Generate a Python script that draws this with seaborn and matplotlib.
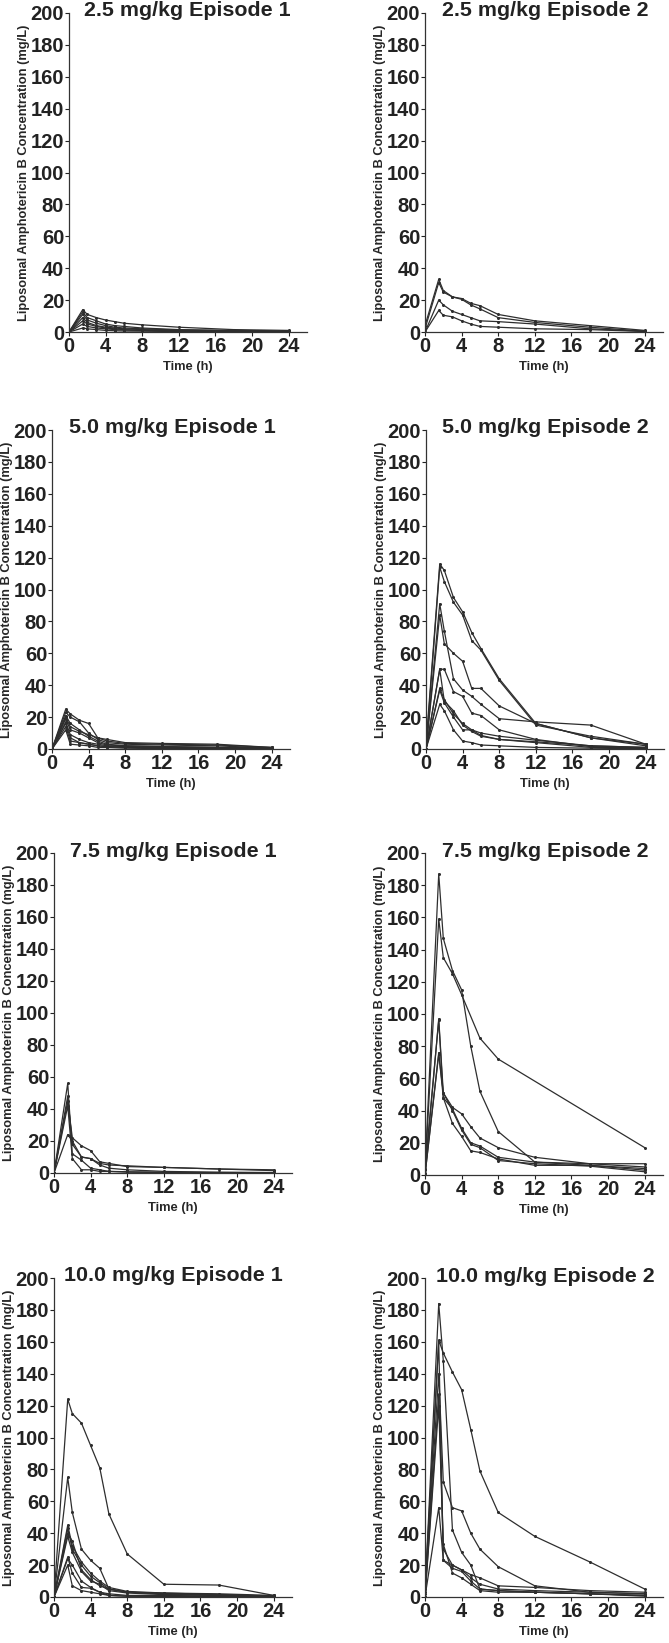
import numpy as np
import pandas as pd
import seaborn as sns
import matplotlib.pyplot as plt

nan = np.nan
times = [0, 1.5, 2, 3, 4, 5, 6, 8, 12, 18, 24]

d25_ep1 = [
    [0, 14, 11, 9, 7.5, 6.5, 5.5, 4.5, 3, 1.5, 1],
    [0, 12.5, 9, 7, 5, 4, 3.5, 2.5, 1.5, 1, 0.5],
    [0, 11, 7.5, 5.5, 4, 3, 2.5, 2, 1.2, 0.8, 0.5],
    [0, 9, 6, 4, 3, 2.5, 2, 1.5, 1, 0.5, 0.3],
    [0, 7, 5, 3.5, 2.5, 2, 1.5, 1, 0.6, 0.4, 0.2],
    [0, 5, 3.5, 2.5, 2, 1.5, 1.2, 1, 0.5, 0.3, 0.2],
    [0, 2.5, 2, 1.5, 1, 0.8, 0.6, 0.5, 0.3, 0.2, 0.1],
]
d25_ep2 = [
    [4, 33, 26, 22, 21, 18, 16.5, 11, 7, 4, 1],
    [2, 31, 25, 22, 20.5, 17, 14.5, 9, 6, 3, 0.5],
    [0, 20, 17, 13, 11, 9, 7, 6.5, 5, 2, 0.5],
    [0, 13.5, 10.5, 9.5, 7, 5, 3.5, 3, 2, 1.5, 0.3],
]
d50_ep1 = [
    [0, 25, 22, 18, 16, 7, 5, 3.5, 3, 2.5, 1],
    [0, 23, 20, 17, 10, 6, 4, 3, 2.5, 2, 0.5],
    [0, 21, 16, 12, 8, 5, 3, 2, 1.5, 1, 0.5],
    [0, 19, 12, 10, 7, 4, 2.5, 2, 1.5, 1, 0.5],
    [0, 17, 9, 6, 4, 3, 2, 1.5, 1, 0.5, 0.3],
    [0, 14, 5, 4, 3, 2, 1.5, 1, 0.5, 0.5, 0.2],
    [0, 12, 3, 2.5, 2, 1, 1, 0.5, 0.3, 0.2, 0.1],
    [0, 20, 14, 11, 9, 7, 6, 4, 3.5, 3, 1],
    [0, 16, 7, 4, 3, 2, 1.5, 1, 0.8, 0.5, 0.2],
]
d50_ep2 = [
    [3, 116, 112, 95, 86, 73, 63, 44, 16, 7, 3],
    [0, 114, 105, 92, 84, 68, 62, 43, 15, 8, 3],
    [0, 91, 74, 44, 37, 33, 28, 19, 17, 15, 3],
    [0, 84, 66, 60, 55, 38, 38, 27, 16, 7, 2],
    [0, 50, 50, 36, 33, 22.5, 21, 12, 6, 1.5, 0.5],
    [0, 38, 31, 22, 16, 12, 10, 8, 5.5, 2, 1],
    [0, 37, 29, 20, 12, 12, 8.5, 6, 4, 1, 0.5],
    [0, 28, 24, 12, 5, 4, 2.5, 2, 1, 0.5, 0.2],
    [0, 50, 30, 24, 15, 11, 8, 6, 4.5, 2, 1],
]
d75_ep1 = [
    [0, 56, 12, 8, 3, 2, 1, 0.8, 0.5, 0.3, 0.2],
    [0, 48, 18, 10, 9, 5, 3, 2, 1, 0.5, 0.3],
    [0, 45, 22, 17, 14, 7, 6, 4, 3.5, 2.5, 2],
    [0, 42, 9, 2, 2, 1, 1, 0.5, 0.3, 0.2, 0.1],
    [0, 24, 20, 10, 9, 6, 5, 4.5, 3.5, 2.5, 1.5],
]
d75_ep2 = [
    [3, 187, 147, 127, 115, 80, 52, 27, 8, 6, 3],
    [1, 159, 135, 125, 112, nan, 85, 72, nan, nan, 17],
    [0, 97, 51, 42, 38, 30, 23, 17, 11, 7, 7],
    [4, 96, 48, 41, 29, 20, 18, 11, 8, 7, 5],
    [0, 76, 48, 32, 24, 15, 14, 10, 6, 6, 4],
    [0, 75, 51, 40, 28, 19, 17, 9, 7, 5.5, 2],
]
d100_ep1 = [
    [0, 124, 115, 109, 95, 81, 52, 27, 8, 7.5, 1],
    [0, 75, 53, 30, 23, 18, 5, 3, 2.5, 2, 1],
    [0, 45, 32, 22, 15, 10, 6, 3.5, 2.5, 1.5, 0.5],
    [0, 43, 30, 20, 13, 9, 5, 3, 2, 1.5, 0.5],
    [0, 40, 35, 17, 11, 7, 5, 3, 2, 1, 0.5],
    [0, 38, 28, 16, 10, 8, 4, 2.5, 1.5, 1, 0.3],
    [0, 25, 15, 6, 5.5, 3, 2, 1, 1, 0.5, 0.3],
    [0, 20, 7, 4, 3, 2, 1, 0.5, 0.4, 0.3, 0.1],
    [0, 24, 20, 10, 6, 3, 1, 0.5, 0.4, 0.3, 0.2],
]
d100_ep2 = [
    [5, 161, 153, 141, 130, 105, 79, 53, 38, 22, 5],
    [3, 184, 148, 42, 28, 20, 5, 4, 3, 2, 1],
    [2, 140, 72, 56, 54, 40, 30, 19, 7, 3, 2],
    [0, 127, 33, 15, 12, 8, 4, 3, 3, 2, 0.5],
    [0, 120, 30, 20, 17, 14, 12, 7, 6, 4, 3],
    [0, 56, 23, 20, 17, 12, 8, 5, 4, 3, 2],
    [0, 160, 23, 18, 16, 10, 5, 4, 3, 2, 1],
]

titles = ["2.5 mg/kg Episode 1", "2.5 mg/kg Episode 2",
          "5.0 mg/kg Episode 1", "5.0 mg/kg Episode 2",
          "7.5 mg/kg Episode 1", "7.5 mg/kg Episode 2",
          "10.0 mg/kg Episode 1", "10.0 mg/kg Episode 2"]
panels = [d25_ep1, d25_ep2, d50_ep1, d50_ep2, d75_ep1, d75_ep2, d100_ep1, d100_ep2]

# axes boxes in pixels: left, top, right, bottom
W, H = 669, 1643
boxes = [(69, 13, 307, 332), (425, 13, 663, 332),
         (52, 430, 290, 749), (426, 430, 664, 749),
         (54, 853, 292, 1173), (425, 853, 663, 1175),
         (54, 1278, 292, 1597), (425, 1278, 663, 1597)]
# title centre x, baseline y
title_pos = [(187, 16), (545, 16), (172, 433), (545, 433),
             (173, 857), (545, 857), (173, 1281), (545, 1282)]

sns.set_style("ticks")
plt.rcParams["font.family"] = ["Liberation Sans", "DejaVu Sans"]
plt.rcParams["font.weight"] = "bold"

fig = plt.figure(figsize=(W / 100, H / 100), dpi=100)
col = "#2e2e2e"

for i, series in enumerate(panels):
    l, t, r, b = boxes[i]
    ax = fig.add_axes([l / W, 1 - b / H, (r - l) / W, (b - t) / H])
    rows = []
    for k, s in enumerate(series):
        for tt, v in zip(times, s):
            rows.append({"time": tt, "conc": v, "subj": k})
    df = pd.DataFrame(rows).dropna()
    sns.lineplot(data=df, x="time", y="conc", units="subj", estimator=None,
                 color=col, lw=0.9, marker="o", markersize=2.2,
                 markeredgewidth=0, ax=ax, legend=False)
    ax.set_xlim(0, 26)
    ax.set_ylim(0, 200)
    ax.set_xticks(range(0, 25, 4))
    ax.set_yticks(range(0, 201, 20))
    ax.tick_params(labelsize=14.5, length=3, width=0.8, pad=0.5, colors="#222222")
    for lab in ax.get_xticklabels() + ax.get_yticklabels():
        lab.set_fontweight("bold")
    for sp in ["top", "right"]:
        ax.spines[sp].set_visible(False)
    for sp in ["left", "bottom"]:
        ax.spines[sp].set_linewidth(0.9)
        ax.spines[sp].set_color("#333333")
    ax.set_xlabel("Time (h)", fontsize=9.3, fontweight="bold", labelpad=4)
    ax.set_ylabel("Liposomal Amphotericin B Concentration (mg/L)",
                  fontsize=9.3, fontweight="bold", labelpad=0.5)
    tx, ty = title_pos[i]
    fig.text(tx / W, 1 - ty / H, titles[i], ha="center", va="baseline",
             fontsize=15.4, fontweight="bold", color="#222222")

fig.savefig("out.png", dpi=100)
